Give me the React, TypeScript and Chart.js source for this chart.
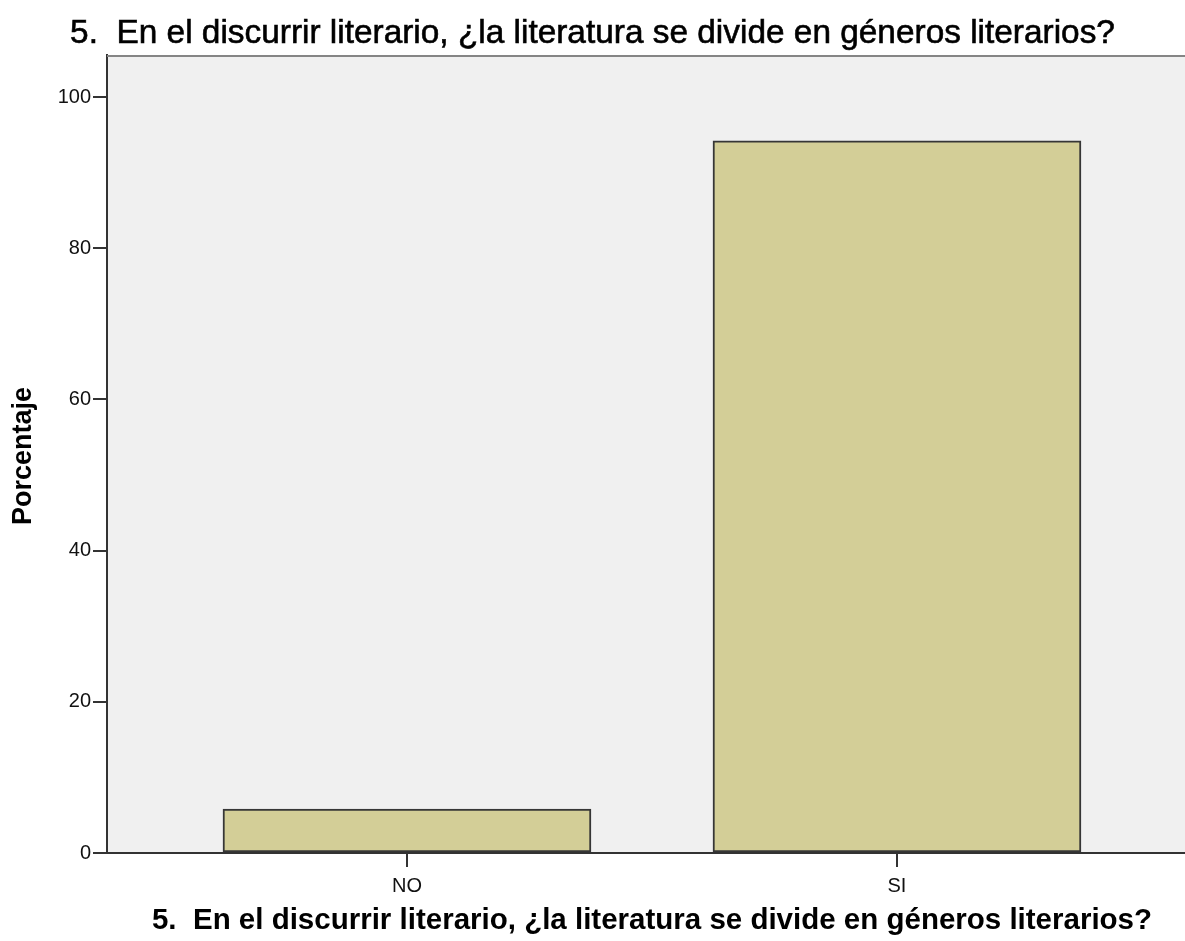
import React, { useEffect, useRef } from 'react';
import { Chart, registerables } from 'chart.js';

Chart.register(...registerables);

// ---- Data ----
const categories: string[] = ['NO', 'SI'];
const percentages: number[] = [5.8, 94.2];
const yTickValues: number[] = [0, 20, 40, 60, 80, 100];
const chartTitle = '5.  En el discurrir literario, ¿la literatura se divide en géneros literarios?';
const xAxisTitle = '5.  En el discurrir literario, ¿la literatura se divide en géneros literarios?';
const yAxisTitle = 'Porcentaje';

const FONT = '"Liberation Sans", Arial, Helvetica, sans-serif';

const decorPlugin = {
  id: 'decor',
  beforeDraw(chart: any) {
    const { ctx, chartArea } = chart;
    ctx.save();
    ctx.fillStyle = '#F0F0F0';
    ctx.fillRect(chartArea.left, chartArea.top, chartArea.right - chartArea.left, chartArea.bottom - chartArea.top);
    ctx.restore();
  },
  afterDraw(chart: any) {
    const { ctx, chartArea, width } = chart;
    ctx.save();
    // top frame line
    ctx.strokeStyle = '#858585';
    ctx.lineWidth = 2;
    ctx.beginPath();
    ctx.moveTo(chartArea.left, chartArea.top + 1);
    ctx.lineTo(chartArea.right, chartArea.top + 1);
    ctx.stroke();

    ctx.fillStyle = '#000';
    ctx.strokeStyle = '#000';
    ctx.textAlign = 'center';
    ctx.textBaseline = 'middle';
    // main title
    ctx.font = `normal 33.4px ${FONT}`;
    ctx.lineWidth = 0.6;
    ctx.fillText(chartTitle, width / 2, 34);
    ctx.strokeText(chartTitle, width / 2, 34);
    // x-axis title
    ctx.font = `bold 29.5px ${FONT}`;
    ctx.fillText(xAxisTitle, (chartArea.left + chartArea.right) / 2 + 6, 921);
    // y-axis title
    ctx.font = `bold 27px ${FONT}`;
    ctx.translate(24, (chartArea.top + chartArea.bottom) / 2 + 2);
    ctx.rotate(-Math.PI / 2);
    ctx.fillText(yAxisTitle, 0, 0);
    ctx.restore();
  },
};

export default function App() {
  const canvasRef = useRef<HTMLCanvasElement | null>(null);

  useEffect(() => {
    if (!canvasRef.current) return;
    Chart.defaults.font.family = FONT;
    const chart = new Chart(canvasRef.current, {
      type: 'bar',
      data: {
        datasets: [
          {
            data: categories.map((c, i) => ({ x: i + 1, y: percentages[i] })),
            backgroundColor: '#D3CE97',
            borderColor: '#363636',
            borderWidth: 2,
            borderSkipped: false,
            barThickness: 368,
            maxBarThickness: 368,
          },
        ],
      },
      options: {
        responsive: false,
        animation: false,
        layout: { padding: { left: 0, top: 55, right: 0, bottom: 0 } },
        plugins: {
          legend: { display: false },
          tooltip: { enabled: false },
          title: { display: false },
        },
        scales: {
          x: {
            type: 'linear',
            offset: false,
            min: 0.3878,
            max: 2.5878,
            afterBuildTicks: (scale: any) => {
              scale.ticks = categories.map((_, i) => ({ value: i + 1 }));
            },
            afterFit: (scale: any) => {
              scale.height = 88;
            },
            ticks: {
              autoSkip: false,
              maxRotation: 0,
              padding: 7,
              color: '#111',
              font: { size: 20 },
              callback: (v: any) => categories[Math.round(Number(v)) - 1] ?? '',
            },
            grid: {
              offset: false,
              drawOnChartArea: false,
              drawTicks: true,
              tickLength: 14,
              color: '#333',
              lineWidth: 2,
            },
            border: { display: true, color: '#333', width: 2 },
          },
          y: {
            type: 'linear',
            min: 0,
            max: 105.56,
            afterBuildTicks: (scale: any) => {
              scale.ticks = yTickValues.map((v) => ({ value: v }));
            },
            afterFit: (scale: any) => {
              scale.width = 107;
            },
            ticks: {
              padding: 2,
              color: '#111',
              font: { size: 20 },
            },
            grid: {
              drawOnChartArea: false,
              drawTicks: true,
              tickLength: 14,
              color: '#333',
              lineWidth: 2,
            },
            border: { display: true, color: '#333', width: 2 },
          },
        },
      },
      plugins: [decorPlugin],
    } as any);
    return () => chart.destroy();
  }, []);

  return (
    <div style={{ position: 'fixed', left: 0, top: 0, width: 1185, height: 941, background: '#fff' }}>
      <canvas ref={canvasRef} width={1185} height={941} style={{ display: 'block' }} />
    </div>
  );
}
